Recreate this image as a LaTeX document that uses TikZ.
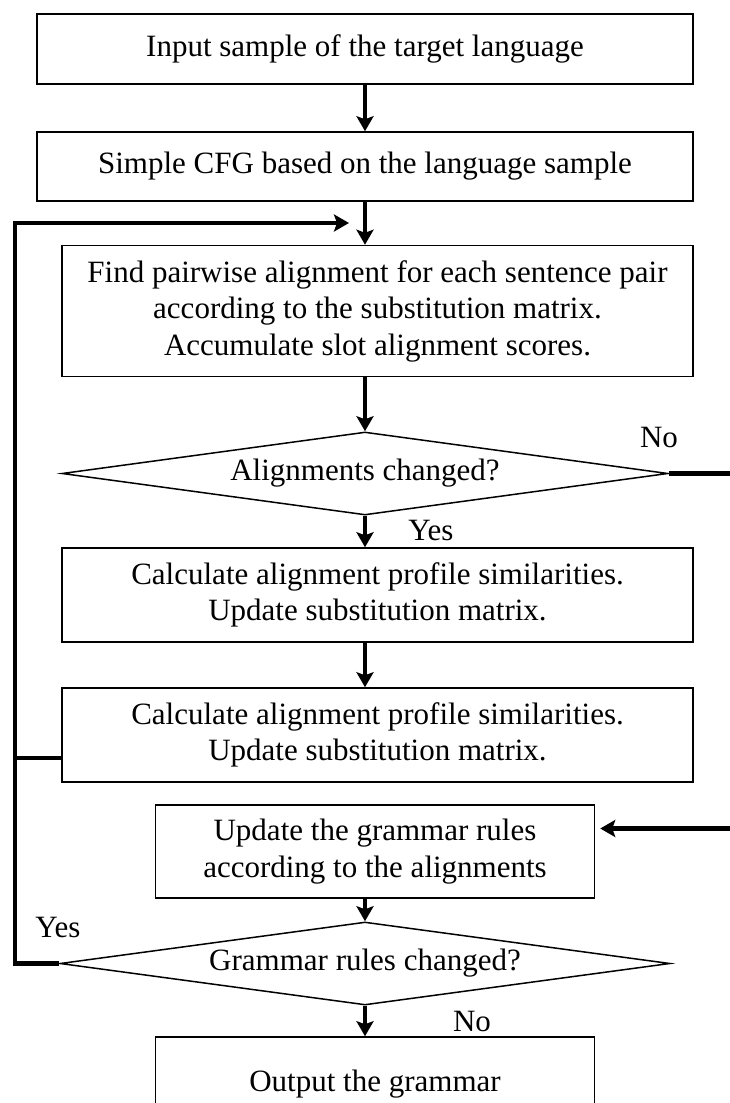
\documentclass[tikz,border=0pt]{standalone}
\usepackage{fontspec}
\setmainfont{Liberation Serif}
\usetikzlibrary{shapes.geometric,arrows.meta}

\begin{document}
\begin{tikzpicture}[x=1pt,y=1pt,
  box/.style={draw, line width=1.5pt, rectangle, align=center, inner sep=0pt,
    font=\fontsize{31}{36.5}\selectfont},
  decision/.style={draw, line width=1.5pt, diamond, aspect=7.3, inner sep=0pt,
    font=\fontsize{31}{36.5}\selectfont},
  flow/.style={line width=4.5pt, -{Stealth[length=15pt,width=17pt,inset=3pt]}},
  link/.style={line width=4.5pt},
  lbl/.style={inner sep=0pt, font=\fontsize{31}{36.5}\selectfont}]
% Fix the page size
\useasboundingbox (0,0) rectangle (729,-1103);
% Column of the vertical arrows
\coordinate (spine) at (365,0);
% Process boxes from top to bottom
\node[box, minimum width=656, minimum height=70] (input) at (365,-49) {Input sample of the target language};
\node[box, minimum width=656, minimum height=69] (cfg) at (365,-166.5) {Simple CFG based on the language sample};
\node[box, minimum width=631, minimum height=131] (align) at (377.5,-311)
  {Find pairwise alignment for each sentence pair\\according to the substitution matrix.\\Accumulate slot alignment scores.};
% First test
\node[decision, minimum width=606, minimum height=83] (alchanged) at (365,-473.5) {Alignments changed?};
\node[box, minimum width=631, minimum height=94] (simil) at (377.5,-595)
  {Calculate alignment profile similarities.\\Update substitution matrix.};
\node[box, minimum width=631, minimum height=94] (simil2) at (377.5,-735)
  {Calculate alignment profile similarities.\\Update substitution matrix.};
\node[box, minimum width=439, minimum height=93] (rules) at (375,-851.5)
  {Update the grammar rules\\according to the alignments};
% Second test
\node[decision, minimum width=610, minimum height=83] (grchanged) at (365,-963.5) {Grammar rules changed?};
\node[box, minimum width=439, minimum height=94] (output) at (375,-1084) {Output the grammar};
% Yes / No labels
\node[lbl] (no1) at (659,-437.5) {No};
\node[lbl] (yes1) at (431,-530) {Yes};
\node[lbl] (yes2) at (58,-927.5) {Yes};
\node[lbl] (no2) at (472,-1021) {No};
% Main flow downwards
\draw[flow] (input.south) -- (cfg.north);
\draw[flow] (cfg.south) -- (spine |- align.north);
\draw[flow] (spine |- align.south) -- (alchanged.north);
\draw[flow] (alchanged.south) -- (spine |- simil.north);
\draw[flow] (spine |- simil.south) -- (spine |- simil2.north);
\draw[flow] (spine |- rules.south) -- (grchanged.north);
\draw[flow] (grchanged.south) -- (spine |- output.north);
% Loop back on the left
\coordinate (back) at (15,-223);
\coordinate (join) at (349,-223);
\draw[flow] (grchanged.west) -| (back) -- (join);
\draw[link] ([yshift=-23pt]simil2.west) -- ([yshift=-23pt]simil2.west -| back);
% Jump on the right, past the page edge
\coordinate (out) at (770,0);
\draw[flow, shorten >=5pt] (alchanged.east) -- (alchanged.east -| out) |- ([yshift=23pt]rules.east);
\end{tikzpicture}
\end{document}
